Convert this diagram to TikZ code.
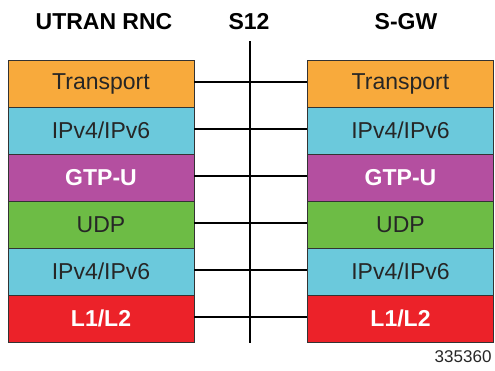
\documentclass[tikz,border=0pt]{standalone}
\usepackage{fontspec}
\setmainfont{Liberation Sans}
\definecolor{corange}{HTML}{F8AA3C}
\definecolor{ccyan}{HTML}{6BC9DC}
\definecolor{cmag}{HTML}{B44FA0}
\definecolor{cgreen}{HTML}{6DBC45}
\definecolor{cred}{HTML}{EC2229}
\begin{document}
\begin{tikzpicture}[x=1pt,y=-1pt,
  layer/.style={draw=black!80, line width=0.8pt, minimum width=186pt, minimum height=47pt, inner sep=0pt, font=\fontsize{23}{26}\selectfont, text=black!85},
  wlayer/.style={layer, text=white, font=\fontsize{23}{26}\selectfont\bfseries},
  title/.style={font=\fontsize{23}{26}\selectfont\bfseries},
  conn/.style={line width=1.8pt}]
\useasboundingbox (0,0) rectangle (495,370);
\node[title] (tl) at (104,22) {UTRAN RNC};
\node[title] (tm) at (249,22) {S12};
\node[title] (tr) at (406,22) {S-GW};
\foreach \i/\c/\t/\s in {1/corange/{Transport}/layer, 2/ccyan/{IPv4/IPv6}/layer, 3/cmag/{GTP-U}/wlayer, 4/cgreen/{UDP}/layer, 5/ccyan/{IPv4/IPv6}/layer, 6/cred/{L1/L2}/wlayer}{
  \node[\s, fill=\c] (l\i) at (101,{36.5+47*\i}) {\t};
  \node[\s, fill=\c] (r\i) at (400.5,{36.5+47*\i}) {\t};
}
\coordinate (vt) at (250,41);
\coordinate (vb) at (250,343);
\draw[conn] (vt) -- (vb);
\foreach \i in {1,...,6}{
  \draw[conn] ([yshift=1.5pt]l\i.east) -- ([yshift=1.5pt]r\i.west);
}
\node[font=\fontsize{17}{20}\selectfont, text=black!85, anchor=east] (id) at (495,357) {335360};
\end{tikzpicture}
\end{document}
